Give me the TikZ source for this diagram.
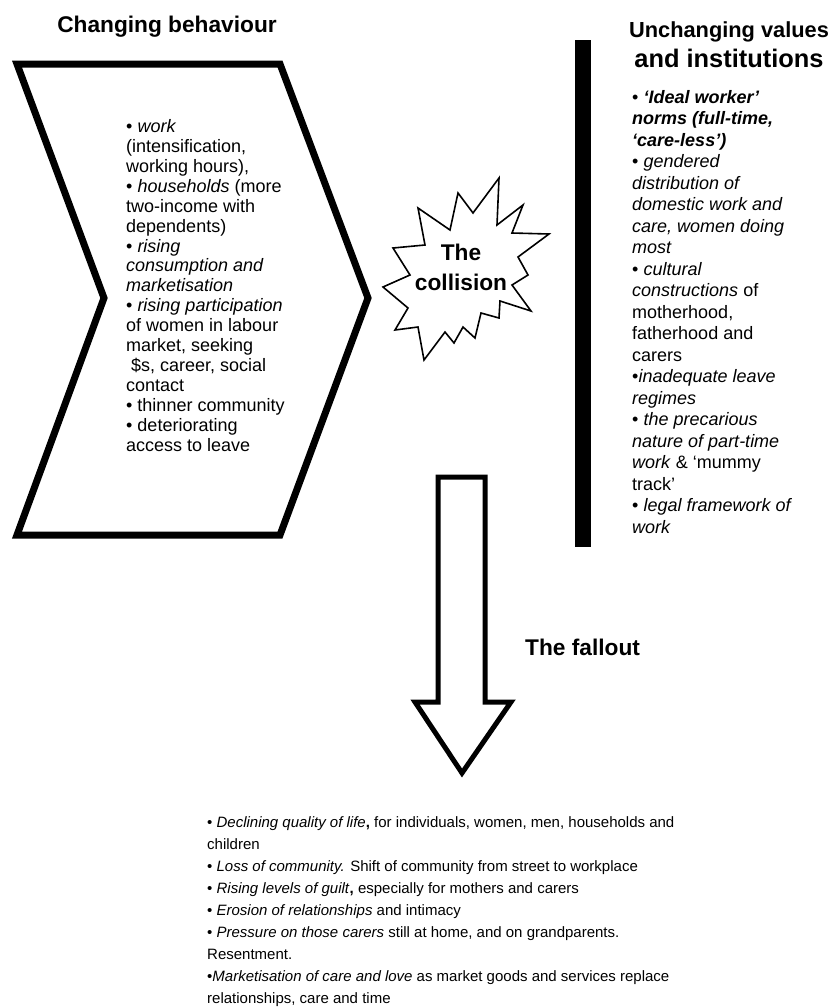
\documentclass[tikz,border=0pt]{standalone}
\usepackage{fontspec}
\setmainfont{Liberation Sans}
\usetikzlibrary{positioning}
\tikzset{heading/.style={font=\fontsize{22.7}{30}\selectfont\bfseries, inner sep=0pt, align=center}}
\tikzset{bigitems/.style={font=\fontsize{18}{19.9}\selectfont, inner sep=0pt, align=left, anchor=base west}}
\tikzset{valitems/.style={bigitems, font=\fontsize{18}{21.5}\selectfont}}
\tikzset{fallitems/.style={font=\fontsize{15}{21.9}\selectfont, inner sep=0pt, align=left, anchor=base west}}
\tikzset{thickline/.style={line width=7pt, miter limit=20}}

\begin{document}
\begin{tikzpicture}[x=1pt, y=-1pt]
  \useasboundingbox (0,0) rectangle (829,1007);
  % changing behaviour
  \node[heading, anchor=base] (chgtitle) at (167,32) {Changing behaviour};
  \draw[thickline] (17,64) -- (280,64) -- (368,298) -- (280,535) -- (17,535) -- (104,298) -- cycle;
  % (anchored at the baseline of the last line)
  \node[bigitems] (chglist) at (126,451) {%
    • \textit{work}\\
    (intensification,\\
    working hours),\\
    • \textit{households} (more\\
    two-income with\\
    dependents)\\
    • \textit{rising}\\
    \textit{consumption and}\\
    \textit{marketisation}\\
    • \textit{rising participation}\\
    of women in labour\\
    market, seeking\\
    \ \$s, career, social\\
    contact\\
    • thinner community\\
    • deteriorating\\
    access to leave};
  % the collision
  \draw[line width=1.6pt, line join=miter] (499,178) -- (497,225) -- (523,205) -- (512,233) -- (549,234)
    -- (518,257) -- (528,275) -- (512,285) -- (531,311) -- (500,301) -- (499,318) -- (481,313)
    -- (475,338) -- (463,327) -- (454,343) -- (445,332) -- (424,360) -- (418,327) -- (395,330)
    -- (408,308) -- (383,287) -- (410,275) -- (393,248) -- (425,245) -- (418,208) -- (450,230)
    -- (458,193) -- (473,213) -- cycle;
  \node[heading, anchor=base] (collision) at (461,290) {The\\collision};
  % unchanging values
  \node[heading, anchor=base] (valtitle) at (729,67) {{\fontsize{21.8}{30}\selectfont Unchanging values}\\
    {\fontsize{25.4}{30}\selectfont and institutions}};
  \fill (575,40) rectangle (591,547);
  \node[valitems] (vallist) at (632,533) {%
    • \textbf{\textit{‘Ideal worker’}}\\
    \textbf{\textit{norms (full-time,}}\\
    \textbf{\textit{‘care-less’)}}\\
    • \textit{gendered}\\
    \textit{distribution of}\\
    \textit{domestic work and}\\
    \textit{care, women doing}\\
    \textit{most}\\
    • \textit{cultural}\\
    \textit{constructions} of\\
    motherhood,\\
    fatherhood and\\
    carers\\
    •\textit{inadequate leave}\\
    \textit{regimes}\\
    • \textit{the precarious}\\
    \textit{nature of part-time}\\
    \textit{work} \& ‘mummy\\
    track’\\
    • \textit{legal framework of}\\
    \textit{work}};
  % the fallout
  \draw[line width=5pt] (438,477) -- (485,477) -- (485,702) -- (511,702) -- (462,773) -- (415,702) -- (438,702) -- cycle;
  \node[heading, anchor=base west] (fallout) at (525,655) {The fallout};
  \node[fallitems] (falllist) at (207,1003) {%
    • \textit{Declining quality of life}\textbf{,} for individuals, women, men, households and\\
    children\\
    • \textit{Loss of community.} Shift of community from street to workplace\\
    • \textit{Rising levels of guilt}\textbf{,} especially for mothers and carers\\
    • \textit{Erosion of relationships} and intimacy\\
    • \textit{Pressure on those carers} still at home, and on grandparents.\\
    Resentment.\\
    •\textit{Marketisation of care and love} as market goods and services replace\\
    relationships, care and time};
\end{tikzpicture}
\end{document}
